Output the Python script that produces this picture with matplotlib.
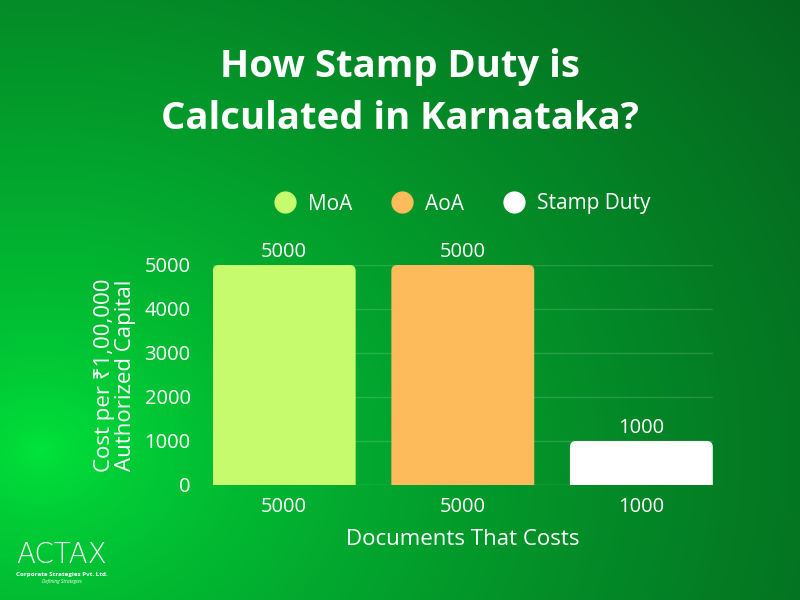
import numpy as np
import matplotlib
matplotlib.use("Agg")
import matplotlib.pyplot as plt
from matplotlib.lines import Line2D
from matplotlib.patches import FancyBboxPatch

plt.rcParams["font.family"] = ["Open Sans", "Noto Sans", "DejaVu Sans"]

# data
categories = ["5000", "5000", "1000"]
series_names = ["MoA", "AoA", "Stamp Duty"]
values = [5000, 5000, 1000]
colors = ["#c6fb6e", "#fdbb5b", "#ffffff"]
yticks = [0, 1000, 2000, 3000, 4000, 5000]

fig = plt.figure(figsize=(8, 6), dpi=100)

# green radial background
bg = fig.add_axes([0, 0, 1, 1], zorder=-10)
h, w = 600, 800
yy, xx = np.mgrid[0:h, 0:w]
d = np.sqrt(((xx - 40) / 800.0) ** 2 + ((yy - 450) / 650.0) ** 2)
t = np.clip(d / 1.2, 0, 1) ** 0.7
bright = np.array([0x00, 0xe6, 0x3c]) / 255
dark = np.array([0x05, 0x62, 0x1e]) / 255
img = bright[None, None, :] * (1 - t[..., None]) + dark[None, None, :] * t[..., None]
bg.imshow(img, aspect="auto", extent=[0, 1, 0, 1], origin="upper")
bg.axis("off")

ax_w, ax_h = 0.625, 0.3667
ax = fig.add_axes([0.266, 0.1917, ax_w, ax_h])
ax.set_facecolor("none")
ax.set_xlim(-0.4, 2.4)
ax.set_ylim(0, 5000)

x = np.arange(len(values))
bars = ax.bar(x, values, width=0.8, color=colors, zorder=3)

# rounded top corners
xpp = 2.8 / (ax_w * 800)
ypp = 5000 / (ax_h * 600)
r = 6 * xpp
for b in bars:
    bx, by = b.get_x(), b.get_y()
    bw, bh = b.get_width(), b.get_height()
    p = FancyBboxPatch((bx, by - 400), bw, bh + 400,
                       boxstyle=f"round,pad=0,rounding_size={r}",
                       mutation_aspect=ypp / xpp,
                       facecolor=b.get_facecolor(), edgecolor="none", zorder=3)
    ax.add_patch(p)
    b.set_visible(False)

for xi, v in zip(x, values):
    ax.text(xi, v + 60, f"{v}", ha="center", va="bottom", color="white", fontsize=14.5)

ax.set_yticks(yticks)
ax.set_xticks(x)
ax.set_xticklabels(categories)
ax.tick_params(colors="white", labelsize=14.5, length=0, pad=9)
ax.tick_params(axis="y", pad=16)
for s in ax.spines.values():
    s.set_visible(False)
ax.grid(axis="y", color="white", alpha=0.15, linewidth=1, zorder=0)
ax.axhline(0, color="white", alpha=0.2, linewidth=1, zorder=0)

ax.set_xlabel("Documents That Costs", color="white", fontsize=16, labelpad=8)
ax.set_ylabel("Cost per \u20b91,00,000\nAuthorized Capital", color="white",
              fontsize=16, labelpad=6, linespacing=1.0)

# legend
handles = [Line2D([], [], marker="o", linestyle="none", markersize=15,
                  markerfacecolor=c, markeredgecolor=c) for c in colors]
fig.legend(handles, series_names, loc="center", bbox_to_anchor=(0.572, 0.66),
           ncol=3, frameon=False, fontsize=15, labelcolor="white",
           handletextpad=0.1, columnspacing=1.4)

# title
fig.text(0.5, 0.845, "How Stamp Duty is\nCalculated in Karnataka?", ha="center",
         va="center", color="white", fontsize=27.5, fontweight="bold",
         linespacing=1.45)

# logo
fig.text(0.077, 0.075, "ACTAX", ha="center", va="center", color="white",
         fontsize=20, fontfamily="DejaVu Sans", fontweight="light")
fig.text(0.077, 0.043, "Corporate Strategies Pvt. Ltd.", ha="center",
         va="center", color="white", fontsize=4.5, fontweight="bold")
fig.text(0.077, 0.031, "Defining Strategies", ha="center", va="center",
         color="white", fontsize=3.5, style="italic")

fig.savefig("out.png", dpi=100)
